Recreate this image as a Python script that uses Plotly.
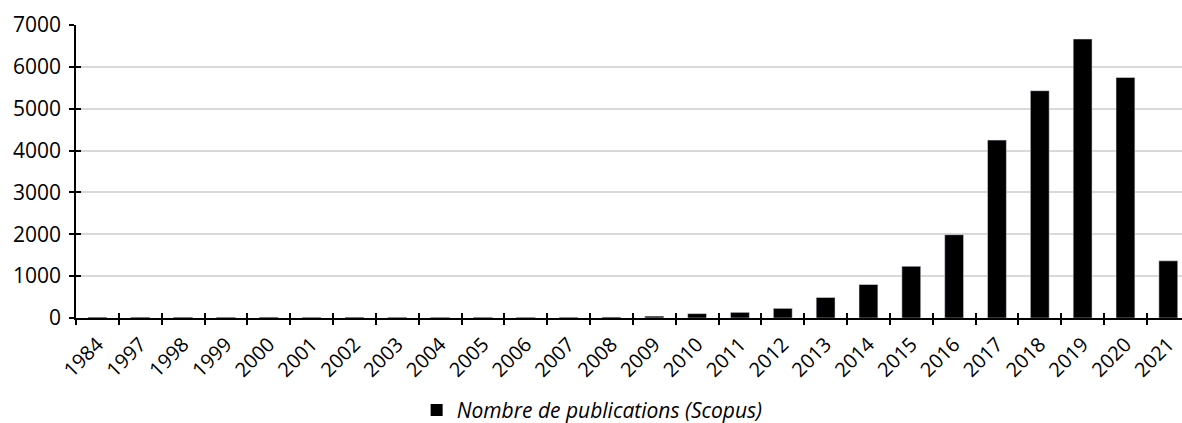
import plotly.graph_objects as go

years = ["1984", "1997", "1998", "1999", "2000", "2001", "2002", "2003", "2004",
         "2005", "2006", "2007", "2008", "2009", "2010", "2011", "2012", "2013",
         "2014", "2015", "2016", "2017", "2018", "2019", "2020", "2021"]
publications = [5, 5, 6, 8, 20, 10, 18, 10, 12, 10, 12, 14, 22, 30, 105, 135, 230, 490,
                800, 1235, 1990, 4250, 5430, 6665, 5745, 1365]
series_name = "Nombre de publications (Scopus)"
y_ticks = [0, 1000, 2000, 3000, 4000, 5000, 6000, 7000]

FONT = "Open Sans"

fig = go.Figure()
fig.add_trace(go.Bar(
    x=years, y=publications, name=series_name,
    marker=dict(color="#000000", line=dict(width=0)),
    showlegend=True,
))
# invisible companion trace to draw the inner half of the cross ticks
fig.add_trace(go.Bar(
    x=years, y=publications, xaxis="x2", yaxis="y2",
    marker=dict(color="rgba(0,0,0,0)"), showlegend=False, hoverinfo="skip",
))

fig.update_layout(
    width=1182, height=423,
    margin=dict(l=76, r=0, t=25, b=105, autoexpand=False),
    paper_bgcolor="white", plot_bgcolor="white",
    bargap=0.56,
    font=dict(family=FONT, color="#000000"),
    xaxis=dict(
        type="category", range=[-0.5, 25.32], automargin=False,
        showgrid=False, showline=True, linecolor="#000000", linewidth=1.5,
        ticks="outside", ticklen=5, tickwidth=1.5, tickcolor="#000000",
        tickson="boundaries", tickangle=-45, ticklabelstandoff=5,
        tickfont=dict(family=FONT, size=20, color="#000000"),
    ),
    yaxis=dict(
        range=[0, 7000], tickvals=y_ticks, automargin=False,
        showgrid=True, gridcolor="#d9d9d9", gridwidth=1.5,
        showline=True, linecolor="#000000", linewidth=1.5,
        ticks="outside", ticklen=5, tickwidth=1.5, tickcolor="#000000",
        ticklabelstandoff=4,
        tickfont=dict(family=FONT, size=21, color="#000000"),
        zeroline=False,
    ),
    xaxis2=dict(
        type="category", overlaying="x", matches="x", side="bottom", automargin=False,
        showgrid=False, showline=False, showticklabels=False,
        ticks="inside", ticklen=5, tickwidth=1.5, tickcolor="#000000",
        tickson="boundaries",
    ),
    yaxis2=dict(
        overlaying="y", matches="y", side="left", automargin=False,
        showgrid=False, showline=False, showticklabels=False,
        ticks="inside", ticklen=5, tickwidth=1.5, tickcolor="#000000",
        tickvals=y_ticks, zeroline=False,
    ),
    legend=dict(
        orientation="h", x=0.308, xanchor="left", y=-0.245, yanchor="top",
        font=dict(family=FONT, size=21, color="#000000", style="italic"),
        itemwidth=30,
    ),
)

fig.write_html(
    "out.html",
    config={"displayModeBar": False},
    post_script="document.body.style.margin='0';document.body.style.overflow='hidden';",
)
